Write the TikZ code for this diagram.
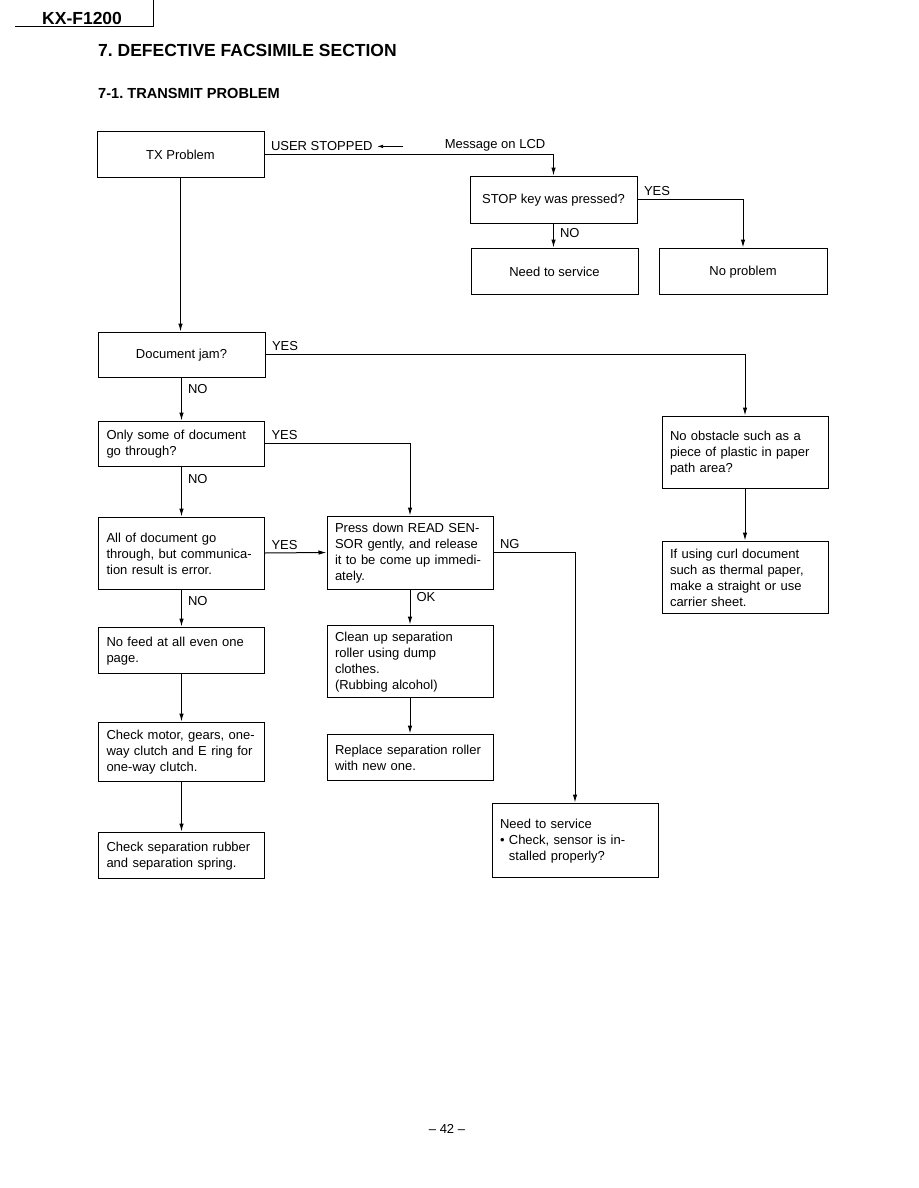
\documentclass[tikz,border=0pt]{standalone}
\usepackage{fontspec}
\setmainfont{Liberation Sans}
\usetikzlibrary{arrows.meta}
\frenchspacing
\newcommand{\boxfont}{\fontsize{13}{16}\selectfont}
\tikzstyle{box}=[draw,rectangle,line width=1pt,inner xsep=8pt,inner ysep=0pt,text height=11pt,font=\boxfont]
\tikzstyle{cbox}=[box,align=center]
\tikzstyle{lbox}=[box,align=left,text width=150pt]
\tikzstyle{edge}=[draw,line width=1pt,-{Latex[length=8pt,width=4.5pt]}]
\tikzstyle{answer}=[font=\boxfont,inner sep=3pt]

\begin{document}
\begin{tikzpicture}[x=1pt,y=-1pt]
	\useasboundingbox (0,0) rectangle (918,1188);
	\node[anchor=base west,inner sep=0pt,font=\fontsize{17.5}{20}\bfseries\selectfont] (model) at (42,25) {KX-F1200};
	\coordinate (hl) at (15,27);
	\coordinate (hr) at (153,27);
	\draw[line width=1pt] (hl) -- (hr) -- ++(0,-27);
	\node[anchor=base west,inner sep=0pt,font=\fontsize{17.5}{20}\bfseries\selectfont] (title) at (98,57) {7. DEFECTIVE FACSIMILE SECTION};
	\node[anchor=base west,inner sep=0pt,font=\fontsize{14.6}{16}\bfseries\selectfont] (subtitle) at (98,99) {7-1. TRANSMIT PROBLEM};
	
	\node[cbox,minimum width=167pt,minimum height=45pt] (tx) at (180.5,154.5) {TX Problem};
	\node[cbox,minimum width=167pt,minimum height=47pt] (stop) at (553.5,199.5) {STOP key was pressed?};
	\node[cbox,minimum width=167pt,minimum height=46pt] (svcA) at (554.5,271) {Need to service};
	\node[cbox,minimum width=168pt,minimum height=46pt] (noprob) at (743,271) {No problem};
	\node[cbox,minimum width=167pt,minimum height=45pt] (jam) at (181.5,354.5) {Document jam?};
	\node[lbox,minimum height=45pt] (some) at (181.5,443.5) {Only some of document\\go through?};
	\node[lbox,minimum height=72pt] (all) at (181.5,553) {All of document go\\through, but communica-\\tion result is error.};
	\node[lbox,minimum height=46pt] (nofeed) at (181.5,650) {No feed at all even one\\page.};
	\node[lbox,minimum height=59pt] (motor) at (181.5,751.5) {Check motor, gears, one-\\way clutch and E ring for\\one-way clutch.};
	\node[lbox,minimum height=46pt] (rubber) at (181.5,855) {Check separation rubber\\and separation spring.};
	\node[lbox,minimum height=73pt] (press) at (410,552.5) {Press down READ SEN-\\SOR gently, and release\\it to be come up immedi-\\ately.};
	\node[lbox,minimum height=72pt] (clean) at (410,661) {Clean up separation\\roller using dump\\clothes.\\(Rubbing alcohol)};
	\node[lbox,minimum height=46pt] (replace) at (410,757) {Replace separation roller\\with new one.};
	\node[lbox,minimum height=74pt] (svcB) at (575,840) {Need to service\\\textbullet\ Check, sensor is in-\\\phantom{\textbullet\ }stalled properly?};
	\node[lbox,minimum height=72pt] (obst) at (745,452) {No obstacle such as a\\piece of plastic in paper\\path area?};
	\node[lbox,minimum height=72pt] (curl) at (745,577) {If using curl document\\such as thermal paper,\\make a straight or use\\carrier sheet.};
	
	\path[edge] (tx.east) -| node[answer,pos=0,above right,xshift=3pt] (user) {USER STOPPED} (stop.north);
	\node[answer,anchor=south east] (msg) at ([xshift=-5pt]stop.north |- tx.east) {Message on LCD};
	\path (user.east) ++(27,0) coordinate (msgtail);
	\draw[line width=0.8pt,-{Latex[length=6pt,width=3.5pt]}] (msgtail) -- ([xshift=1pt]user.east);
	
	\foreach \source/\dest in {tx/jam,nofeed/motor,motor/rubber,clean/replace,obst/curl}
	\path[edge] (\source.south) -- (\source.south |- \dest.north);
	\foreach \source/\dest/\ans/\p in {stop/svcA/NO/0.4,jam/some/NO/0.27,some/all/NO/0.25,all/nofeed/NO/0.3,press/clean/OK/0.22}
	\path[edge] (\source.south) -- node[answer,pos=\p,right,xshift=3pt] {\ans} (\source.south |- \dest.north);
	\foreach \source/\dest/\ans in {stop/noprob/YES,jam/obst/YES,some/press/YES,press/svcB/NG}
	\path[edge] (\source.east) -| node[answer,pos=0,above right,xshift=3pt] {\ans} (\dest.north);
	\path[edge] (all.east) -- node[answer,pos=0,above right,xshift=3pt] {YES} (press.west);
	
	\node[font=\boxfont] (page) at (447,1129) {-- 42 --};
\end{tikzpicture}
\end{document}
